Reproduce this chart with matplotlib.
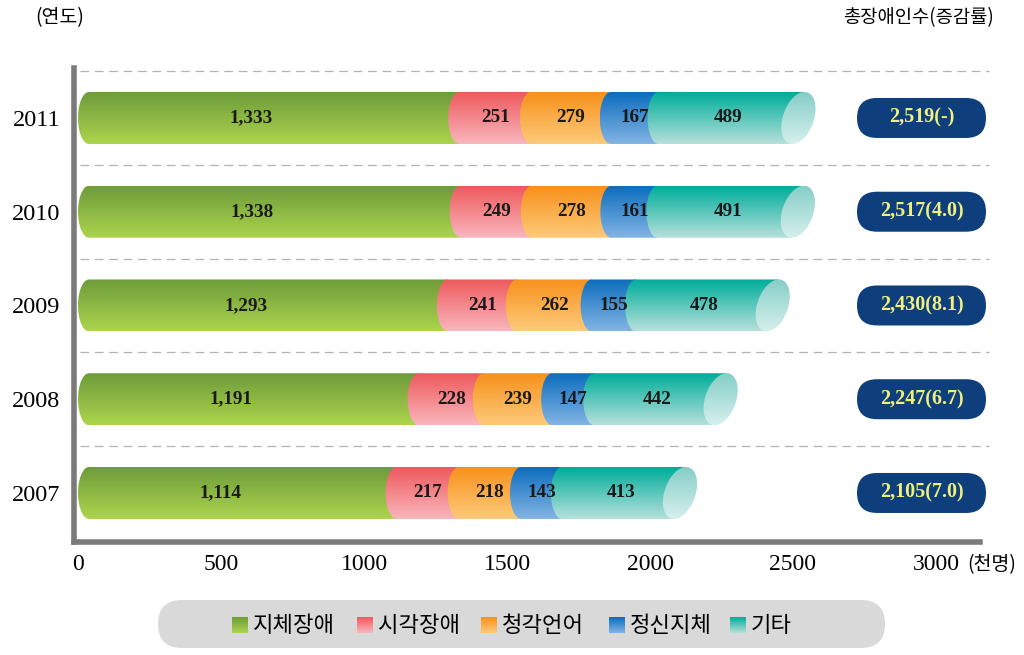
import numpy as np
import matplotlib.pyplot as plt
from matplotlib.colors import LinearSegmentedColormap
from matplotlib.patches import PathPatch, FancyBboxPatch, Rectangle
from matplotlib.path import Path

# data (천명)
years = ['2007', '2008', '2009', '2010', '2011']
categories = ['지체장애', '시각장애', '청각언어', '정신지체', '기타']
physical = [1114, 1191, 1293, 1338, 1333]
visual = [217, 228, 241, 249, 251]
hearing = [218, 239, 262, 278, 279]
mental = [143, 147, 155, 161, 167]
other = [413, 442, 478, 491, 489]
totals = ['2,105(7.0)', '2,247(6.7)', '2,430(8.1)', '2,517(4.0)', '2,519(-)']
xticks = [0, 500, 1000, 1500, 2000, 2500, 3000]

series = [physical, visual, hearing, mental, other]
# (bottom colour, top colour) of each gradient
grads = [('#acd44c', '#6e9c3b'),
         ('#f9b6bd', '#ee5a5d'),
         ('#fdca7a', '#f7911c'),
         ('#82b4e4', '#0e6dbd'),
         ('#b6e1db', '#00ad9a')]
cap_grad = ('#d6f0ed', '#86cec7')

CJK = ['Noto Sans CJK KR', 'DejaVu Sans']
SERIF = 'Liberation Serif'

W, H = 1024, 655
fig = plt.figure(figsize=(W / 100, H / 100), dpi=100)
ax = fig.add_axes([74 / W, (H - 542) / H, 906 / W, 474 / H])
px_x = (936 - 78) / 3000.0     # px per x unit
x0 = -4 / px_x
ax.set_xlim(x0, x0 + 906 / px_x)
ax.set_ylim(-0.523, 4.533)
px_y = 474 / 5.056             # px per y unit

grad = np.linspace(0, 1, 64).reshape(-1, 1)


def gradient_fill(axis, patch, extent, cols, z):
    cmap = LinearSegmentedColormap.from_list('g', list(cols))
    axis.add_patch(patch)
    im = axis.imshow(grad, extent=extent, origin='lower', aspect='auto',
                     cmap=cmap, zorder=z, interpolation='bilinear')
    im.set_clip_path(patch)


h = 52 / px_y
rx = 11 / px_x
rcap = 16 / px_x
sh = 12 / px_x
t_half = np.linspace(np.pi / 2, 3 * np.pi / 2, 40)
t_full = np.linspace(0, 2 * np.pi, 80)
for i in range(len(years)):
    left = 0
    last = len(series) - 1
    for k, vals in enumerate(series):
        v = vals[i]
        s, e = left, left + v
        c = s + rx if k == 0 else s
        et, eb = (e + sh / 2, e - sh / 2) if k == last else (e, e)
        verts = [(et, i + h / 2)] + list(zip(c + rx * np.cos(t_half), i + h / 2 * np.sin(t_half))) \
            + [(eb, i - h / 2), (et, i + h / 2)]
        p = PathPatch(Path(verts, closed=True), fc='none', ec='none')
        gradient_fill(ax, p, [c - rx - 1, et + 1, i - h / 2, i + h / 2], grads[k], 3 + k)
        xm = (s + e) / 2 - (60 if k == 0 else 0)
        ax.text(xm, i, f'{v:,}', ha='center', va='center', fontsize=13.8,
                family=SERIF, fontweight='bold', color='#1a1a1a', zorder=10)
        left = e
    # tilted end cap of the cylinder
    cv = list(zip(left + rcap * np.cos(t_full) + sh / 2 * np.sin(t_full),
                  i + h / 2 * np.sin(t_full)))
    cp = PathPatch(Path(cv, closed=True), fc='none', ec='none')
    gradient_fill(ax, cp, [left - rcap - sh, left + rcap + sh, i - h / 2, i + h / 2], cap_grad, 9)

# dashed separators
for i in range(len(years)):
    ax.hlines(i + 0.5, 8, x0 + 915 / px_x, colors='#b3b3b3', linewidth=0.9,
              linestyles=(0, (7, 4.5)), clip_on=False, zorder=1)

ax.set_yticks(range(len(years)), years)
ax.set_xticks(xticks, [str(x) for x in xticks])
ax.tick_params(length=0)
ax.tick_params(axis='y', pad=10, labelsize=17.5)
ax.tick_params(axis='x', pad=9, labelsize=17)
for lab in ax.get_xticklabels() + ax.get_yticklabels():
    lab.set_family(SERIF)
for sp in ['top', 'right']:
    ax.spines[sp].set_visible(False)
for sp in ['left', 'bottom']:
    ax.spines[sp].set_linewidth(4)
    ax.spines[sp].set_color('#7b7b7b')

# totals pills on the right
pax = fig.add_axes([856 / W, (H - 542) / H, 132 / W, 474 / H])
pax.set_ylim(ax.get_ylim())
pax.set_xlim(0, 132)
pax.axis('off')
for i, tot in enumerate(totals):
    pax.add_patch(FancyBboxPatch((1, i - 20 / px_y), 129, 40 / px_y,
                                 boxstyle='round,pad=0,rounding_size=20',
                                 mutation_aspect=1 / px_y, fc='#0e3f7c', ec='none'))
    pax.text(65.5, i, tot, ha='center', va='center', fontsize=14.5, family=SERIF,
             fontweight='bold', color='#f0f07c')

# header texts
fig.text(60 / W, 1 - 18 / H, '(연도)', ha='center', va='center', fontsize=14, family=CJK)
fig.text(918 / W, 1 - 18 / H, '총장애인수(증감률)', ha='center', va='center',
         fontsize=13.5, family=CJK)
fig.text(992 / W, 1 - 565 / H, '(천명)', ha='center', va='center', fontsize=14, family=CJK)

# legend
lg = fig.add_axes([0, 0, 1, 1])
lg.set_xlim(0, W)
lg.set_ylim(H, 0)
lg.axis('off')
lg.add_patch(FancyBboxPatch((158, 600), 727, 48, boxstyle='round,pad=0,rounding_size=24',
                            fc='#d9d9d9', ec='none'))
sq_x = [232, 357, 481, 609, 730]
for k, name in enumerate(categories):
    sq = Rectangle((sq_x[k], 617), 16, 16, fc='none', ec='none')
    gradient_fill(lg, sq, [sq_x[k], sq_x[k] + 16, 633, 617], grads[k], 3)
    lg.text(sq_x[k] + 21, 625, name, ha='left', va='center', fontsize=16, family=CJK)
lg.set_xlim(0, W)
lg.set_ylim(H, 0)

fig.savefig('out.png', dpi=100)
